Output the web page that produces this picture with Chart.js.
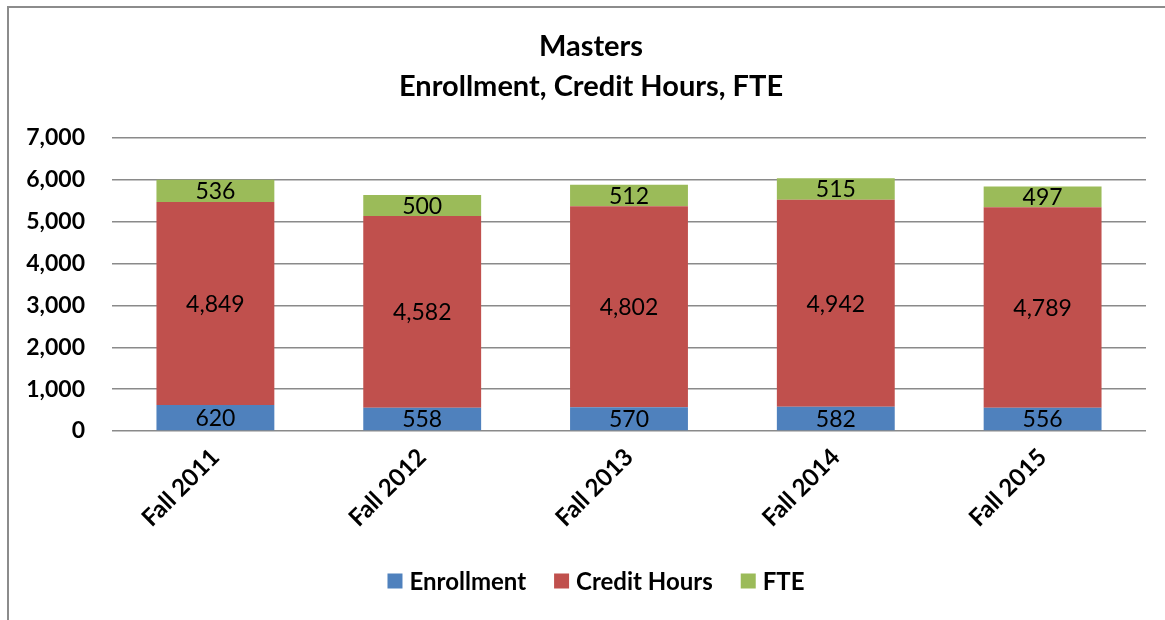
<!DOCTYPE html>
<html>
<head>
<meta charset="utf-8">
<script src="https://cdn.jsdelivr.net/npm/chart.js@4.4.0/dist/chart.umd.min.js"></script>
<style>
html,body{margin:0;padding:0;background:#fff;}
#wrap{position:relative;width:1165px;height:620px;}
</style>
</head>
<body>
<div id="wrap"><canvas id="c" width="1165" height="620"></canvas></div>
<script>
const categories = ['Fall 2011','Fall 2012','Fall 2013','Fall 2014','Fall 2015'];
const enrollment = [620, 558, 570, 582, 556];
const creditHours = [4849, 4582, 4802, 4942, 4789];
const fte = [536, 500, 512, 515, 497];
const titleLines = ['Masters','Enrollment, Credit Hours, FTE'];
const FONT = 'Lato, "Open Sans", sans-serif';

const borderPlugin = {
  id:'frame',
  beforeDraw(chart){
    const ctx = chart.ctx;
    ctx.save();
    ctx.fillStyle='#fff';
    ctx.fillRect(0,0,chart.width,chart.height);
    ctx.strokeStyle='#8c8c8c';
    ctx.lineWidth=2;
    ctx.beginPath();
    ctx.moveTo(8,620); ctx.lineTo(8,7); ctx.lineTo(1165,7);
    ctx.stroke();
    ctx.restore();
  }
};

const labelPlugin = {
  id:'segLabels',
  afterDatasetsDraw(chart){
    const ctx = chart.ctx;
    ctx.save();
    ctx.font = '23px ' + FONT;
    ctx.fillStyle = '#000';
    ctx.textAlign='center';
    ctx.textBaseline='middle';
    chart.data.datasets.forEach((ds,i)=>{
      const meta = chart.getDatasetMeta(i);
      meta.data.forEach((bar,j)=>{
        const y = (bar.y + bar.base)/2;
        ctx.fillText(ds.data[j].toLocaleString('en-US'), bar.x, y+1);
      });
    });
    ctx.restore();
  }
};

const legendPlugin = {
  id:'bottomLegend',
  afterDraw(chart){
    const ctx = chart.ctx;
    const box = 15, gap = 7, itemGap = 28, cx = 596, cy = 581;
    ctx.save();
    ctx.font = 'bold 24px ' + FONT;
    ctx.textBaseline = 'middle';
    ctx.textAlign = 'left';
    const items = chart.data.datasets.map(ds => ({text: ds.label, color: ds.backgroundColor, w: ctx.measureText(ds.label).width}));
    let total = 0;
    items.forEach((it,i)=>{ total += box + gap + it.w + (i < items.length-1 ? itemGap : 0); });
    let x = cx - total/2;
    items.forEach(it=>{
      ctx.fillStyle = it.color;
      ctx.fillRect(x, cy - box/2, box, box);
      ctx.fillStyle = '#000';
      ctx.fillText(it.text, x + box + gap, cy + 1);
      x += box + gap + it.w + itemGap;
    });
    ctx.restore();
  }
};

new Chart(document.getElementById('c'), {
  type:'bar',
  data:{
    labels:categories,
    datasets:[
      {label:'Enrollment', data:enrollment, backgroundColor:'#4F81BD'},
      {label:'Credit Hours', data:creditHours, backgroundColor:'#C0504D'},
      {label:'FTE', data:fte, backgroundColor:'#9BBB59'}
    ]
  },
  options:{
    responsive:false,
    animation:false,
    devicePixelRatio:1,
    layout:{padding:{left:18,right:1,top:0,bottom:0}},
    datasets:{bar:{barPercentage:0.57,categoryPercentage:1}},
    plugins:{
      title:{display:true,text:titleLines,color:'#000',
        font:{family:FONT,size:29,weight:'bold',lineHeight:1.38},
        padding:{top:27,bottom:31}},
      legend:{display:false},
      tooltip:{enabled:false}
    },
    scales:{
      x:{stacked:true,
        grid:{display:false},
        border:{display:false},
        ticks:{color:'#000',font:{family:FONT,size:24,weight:'bold'},minRotation:45,maxRotation:45,padding:4},
        afterFit(s){s.height=189;}
      },
      y:{stacked:true,min:0,max:7000,
        grid:{color:'#8a8a8a',lineWidth:1.5,drawTicks:false},
        border:{display:false},
        ticks:{stepSize:1000,color:'#000',font:{family:FONT,size:23,weight:'bold'},padding:27,
          callback:v=>v.toLocaleString('en-US')},
        afterFit(s){s.width=94;}
      },
      ySpacer:{type:'linear',position:'right',min:0,max:7000,
        grid:{display:false},border:{display:false},ticks:{display:false},
        afterFit(s){s.width=18;}
      }
    }
  },
  plugins:[borderPlugin,labelPlugin,legendPlugin]
});
</script>
</body>
</html>
